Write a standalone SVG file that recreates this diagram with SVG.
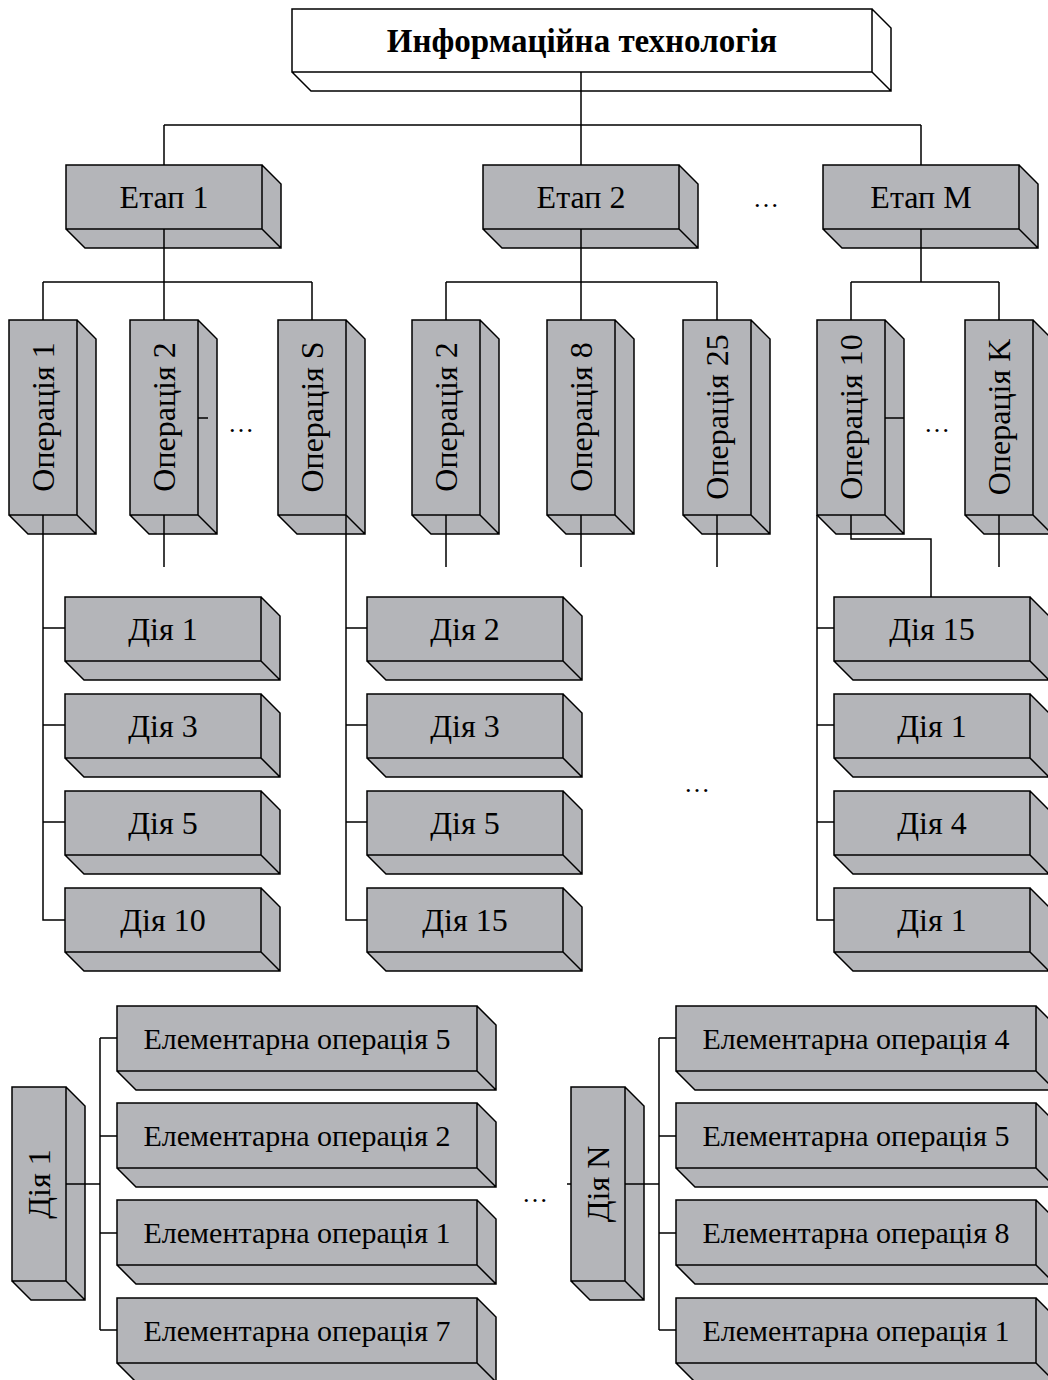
<svg xmlns="http://www.w3.org/2000/svg" width="1048" height="1380" viewBox="0 0 1048 1380">
  <style>
    .box { fill: #b4b5b9; stroke: #000; stroke-width: 1.5; stroke-linejoin: miter; }
    .root { fill: #fff; stroke: #000; stroke-width: 1.5; }
    .lbl { font-family: "Liberation Serif", "Times New Roman", serif; font-size: 32px; fill: #000; text-anchor: middle; }
    .elem { font-size: 30px; }
    .title { font-family: "Liberation Serif", "Times New Roman", serif; font-size: 33px; font-weight: bold; fill: #000; text-anchor: middle; }
    .dots { font-family: "Liberation Serif", "Times New Roman", serif; font-size: 26px; fill: #000; text-anchor: middle; }
    .wire { fill: none; stroke: #000; stroke-width: 1.5; }
  </style>
  <rect width="1048" height="1380" fill="#fff"/>

  <!-- root -->
  <g id="n-it">
    <path class="root" d="M292,9H872V72H292Z M872,9L891,28V91H311L292,72 M872,72L891,91"/>
    <text class="title" x="582" y="52">Информаційна технологія</text>
  </g>

  <!-- stages -->
  <g id="n-stage1">
    <path class="box" d="M66,165H262V229H66Z M262,165L281,184V248H85L66,229 M262,229L281,248"/>
    <text class="lbl" x="164" y="208">Етап 1</text>
  </g>
  <g id="n-stage2">
    <path class="box" d="M483,165H679V229H483Z M679,165L698,184V248H502L483,229 M679,229L698,248"/>
    <text class="lbl" x="581" y="208">Етап 2</text>
  </g>
  <g id="n-stageM">
    <path class="box" d="M823,165H1019V229H823Z M1019,165L1038,184V248H842L823,229 M1019,229L1038,248"/>
    <text class="lbl" x="921" y="208">Етап M</text>
  </g>

  <!-- operations (vertical) -->
  <g id="n-op1">
    <path class="box" d="M9,320H77V515H9Z M77,320L96,339V534H28L9,515 M77,515L96,534"/>
    <text class="lbl" transform="translate(43,417) rotate(-90)" y="11">Операція 1</text>
  </g>
  <g id="n-op2a">
    <path class="box" d="M130,320H198V515H130Z M198,320L217,339V534H149L130,515 M198,515L217,534"/>
    <text class="lbl" transform="translate(164,417) rotate(-90)" y="11">Операція 2</text>
  </g>
  <g id="n-opS">
    <path class="box" d="M278,320H346V515H278Z M346,320L365,339V534H297L278,515 M346,515L365,534"/>
    <text class="lbl" transform="translate(312,417) rotate(-90)" y="11">Операція S</text>
  </g>
  <g id="n-op2b">
    <path class="box" d="M412,320H480V515H412Z M480,320L499,339V534H431L412,515 M480,515L499,534"/>
    <text class="lbl" transform="translate(446,417) rotate(-90)" y="11">Операція 2</text>
  </g>
  <g id="n-op8">
    <path class="box" d="M547,320H615V515H547Z M615,320L634,339V534H566L547,515 M615,515L634,534"/>
    <text class="lbl" transform="translate(581,417) rotate(-90)" y="11">Операція 8</text>
  </g>
  <g id="n-op25">
    <path class="box" d="M683,320H751V515H683Z M751,320L770,339V534H702L683,515 M751,515L770,534"/>
    <text class="lbl" transform="translate(717,417) rotate(-90)" y="11">Операція 25</text>
  </g>
  <g id="n-op10">
    <path class="box" d="M817,320H885V515H817Z M885,320L904,339V534H836L817,515 M885,515L904,534"/>
    <text class="lbl" transform="translate(851,417) rotate(-90)" y="11">Операція 10</text>
  </g>
  <g id="n-opK">
    <path class="box" d="M965,320H1033V515H965Z M1033,320L1052,339V534H984L965,515 M1033,515L1052,534"/>
    <text class="lbl" transform="translate(999,417) rotate(-90)" y="11">Операція K</text>
  </g>

  <!-- actions, column 1 -->
  <g id="n-a1-1">
    <path class="box" d="M65,597H261V661H65Z M261,597L280,616V680H84L65,661 M261,661L280,680"/>
    <text class="lbl" x="163" y="640">Дія 1</text>
  </g>
  <g id="n-a1-3">
    <path class="box" d="M65,694H261V758H65Z M261,694L280,713V777H84L65,758 M261,758L280,777"/>
    <text class="lbl" x="163" y="737">Дія 3</text>
  </g>
  <g id="n-a1-5">
    <path class="box" d="M65,791H261V855H65Z M261,791L280,810V874H84L65,855 M261,855L280,874"/>
    <text class="lbl" x="163" y="834">Дія 5</text>
  </g>
  <g id="n-a1-10">
    <path class="box" d="M65,888H261V952H65Z M261,888L280,907V971H84L65,952 M261,952L280,971"/>
    <text class="lbl" x="163" y="931">Дія 10</text>
  </g>

  <!-- actions, column 2 -->
  <g id="n-a2-2">
    <path class="box" d="M367,597H563V661H367Z M563,597L582,616V680H386L367,661 M563,661L582,680"/>
    <text class="lbl" x="465" y="640">Дія 2</text>
  </g>
  <g id="n-a2-3">
    <path class="box" d="M367,694H563V758H367Z M563,694L582,713V777H386L367,758 M563,758L582,777"/>
    <text class="lbl" x="465" y="737">Дія 3</text>
  </g>
  <g id="n-a2-5">
    <path class="box" d="M367,791H563V855H367Z M563,791L582,810V874H386L367,855 M563,855L582,874"/>
    <text class="lbl" x="465" y="834">Дія 5</text>
  </g>
  <g id="n-a2-15">
    <path class="box" d="M367,888H563V952H367Z M563,888L582,907V971H386L367,952 M563,952L582,971"/>
    <text class="lbl" x="465" y="931">Дія 15</text>
  </g>

  <!-- actions, column 3 -->
  <g id="n-a3-15">
    <path class="box" d="M834,597H1030V661H834Z M1030,597L1049,616V680H853L834,661 M1030,661L1049,680"/>
    <text class="lbl" x="932" y="640">Дія 15</text>
  </g>
  <g id="n-a3-1">
    <path class="box" d="M834,694H1030V758H834Z M1030,694L1049,713V777H853L834,758 M1030,758L1049,777"/>
    <text class="lbl" x="932" y="737">Дія 1</text>
  </g>
  <g id="n-a3-4">
    <path class="box" d="M834,791H1030V855H834Z M1030,791L1049,810V874H853L834,855 M1030,855L1049,874"/>
    <text class="lbl" x="932" y="834">Дія 4</text>
  </g>
  <g id="n-a3-1b">
    <path class="box" d="M834,888H1030V952H834Z M1030,888L1049,907V971H853L834,952 M1030,952L1049,971"/>
    <text class="lbl" x="932" y="931">Дія 1</text>
  </g>

  <!-- bottom: action 1 and its elementary operations -->
  <g id="n-act1">
    <path class="box" d="M12,1087H66V1281H12Z M66,1087L85,1106V1300H31L12,1281 M66,1281L85,1300"/>
    <text class="lbl" transform="translate(39,1184) rotate(-90)" y="11">Дія 1</text>
  </g>
  <g id="n-e1-5">
    <path class="box" d="M117,1006H477V1071H117Z M477,1006L496,1025V1090H136L117,1071 M477,1071L496,1090"/>
    <text class="lbl elem" x="297" y="1049">Елементарна операція 5</text>
  </g>
  <g id="n-e1-2">
    <path class="box" d="M117,1103H477V1168H117Z M477,1103L496,1122V1187H136L117,1168 M477,1168L496,1187"/>
    <text class="lbl elem" x="297" y="1146">Елементарна операція 2</text>
  </g>
  <g id="n-e1-1">
    <path class="box" d="M117,1200H477V1265H117Z M477,1200L496,1219V1284H136L117,1265 M477,1265L496,1284"/>
    <text class="lbl elem" x="297" y="1243">Елементарна операція 1</text>
  </g>
  <g id="n-e1-7">
    <path class="box" d="M117,1298H477V1363H117Z M477,1298L496,1317V1382H136L117,1363 M477,1363L496,1382"/>
    <text class="lbl elem" x="297" y="1341">Елементарна операція 7</text>
  </g>

  <!-- bottom: action N and its elementary operations -->
  <g id="n-actN">
    <path class="box" d="M571,1087H625V1281H571Z M625,1087L644,1106V1300H590L571,1281 M625,1281L644,1300"/>
    <text class="lbl" transform="translate(598,1184) rotate(-90)" y="11">Дія N</text>
  </g>
  <g id="n-eN-4">
    <path class="box" d="M676,1006H1036V1071H676Z M1036,1006L1055,1025V1090H695L676,1071 M1036,1071L1055,1090"/>
    <text class="lbl elem" x="856" y="1049">Елементарна операція 4</text>
  </g>
  <g id="n-eN-5">
    <path class="box" d="M676,1103H1036V1168H676Z M1036,1103L1055,1122V1187H695L676,1168 M1036,1168L1055,1187"/>
    <text class="lbl elem" x="856" y="1146">Елементарна операція 5</text>
  </g>
  <g id="n-eN-8">
    <path class="box" d="M676,1200H1036V1265H676Z M1036,1200L1055,1219V1284H695L676,1265 M1036,1265L1055,1284"/>
    <text class="lbl elem" x="856" y="1243">Елементарна операція 8</text>
  </g>
  <g id="n-eN-1">
    <path class="box" d="M676,1298H1036V1363H676Z M1036,1298L1055,1317V1382H695L676,1363 M1036,1363L1055,1382"/>
    <text class="lbl elem" x="856" y="1341">Елементарна операція 1</text>
  </g>

  <!-- connectors -->
  <g id="connectors" class="wire">
    <path d="M581,72V125 M164,125H921 M164,125V165 M581,125V165 M921,125V165"/>
    <path d="M164,229V282 M43,282H312 M43,282V320 M164,282V320 M312,282V320"/>
    <path d="M581,229V282 M446,282H717 M446,282V320 M581,282V320 M717,282V320"/>
    <path d="M921,229V282 M851,282H999 M851,282V320 M999,282V320"/>
    <path d="M43,515V920H65 M43,628H65 M43,725H65 M43,822H65"/>
    <path d="M164,515V567 M198,418H208"/>
    <path d="M346,515V920H367 M346,628H367 M346,725H367 M346,822H367"/>
    <path d="M446,515V567 M581,515V567 M717,515V567"/>
    <path d="M817,515V920H834 M817,628H834 M817,725H834 M817,822H834"/>
    <path d="M851,515V539H931V597 M885,418H904"/>
    <path d="M999,515V567"/>
    <path d="M66,1184H100 M100,1038V1330 M100,1038H117 M100,1136H117 M100,1233H117 M100,1330H117"/>
    <path d="M567,1184H571 M625,1184H659 M659,1038V1330 M659,1038H676 M659,1136H676 M659,1233H676 M659,1330H676"/>
  </g>

  <!-- ellipses -->
  <g id="ellipses">
    <text class="dots" x="766" y="207">…</text>
    <text class="dots" x="241" y="432">…</text>
    <text class="dots" x="937" y="432">…</text>
    <text class="dots" x="697" y="792">…</text>
    <text class="dots" x="535" y="1202">…</text>
  </g>
</svg>
